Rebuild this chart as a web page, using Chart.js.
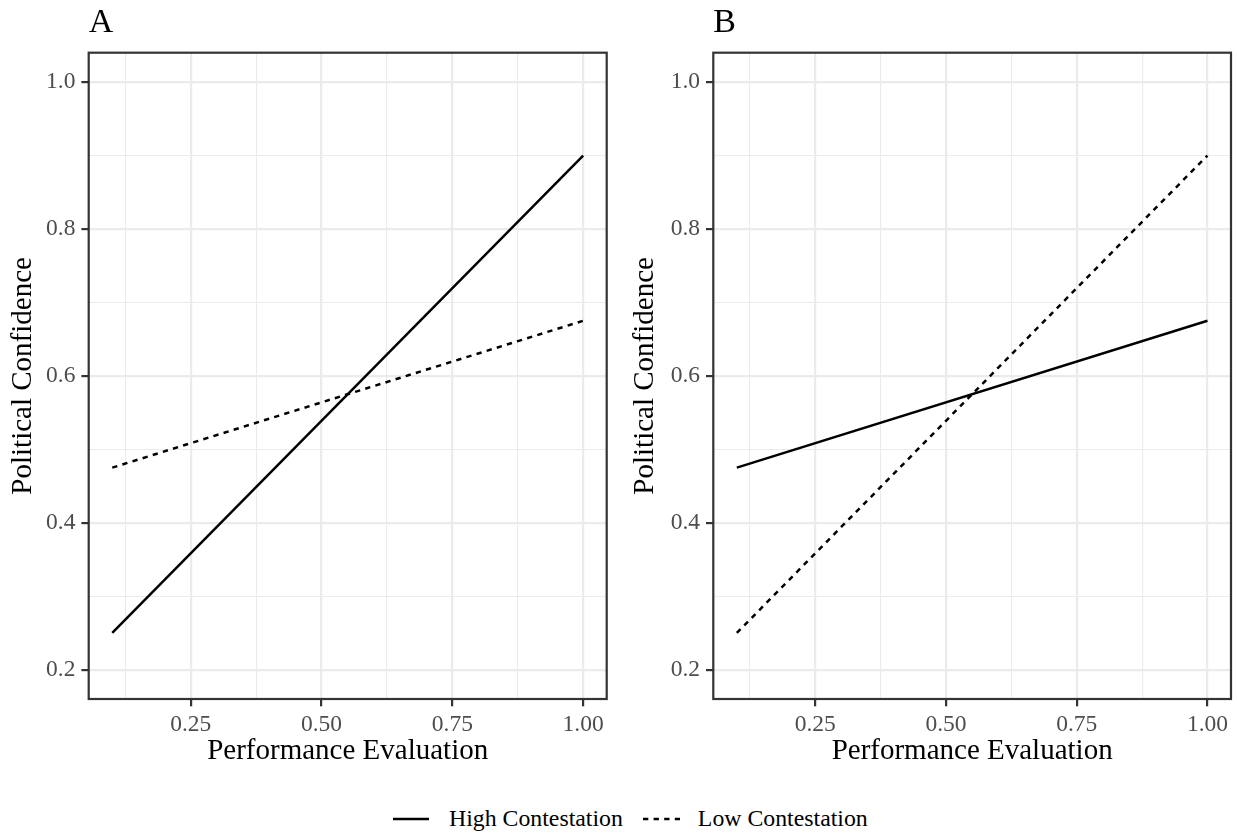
<!DOCTYPE html>
<html>
<head>
<meta charset="utf-8">
<script src="https://cdn.jsdelivr.net/npm/chart.js@4.4.1/dist/chart.umd.min.js"></script>
<style>
  body { margin: 0; background: #fff; width: 1238px; height: 834px; position: relative; overflow: hidden; }
  canvas { position: absolute; top: 0; }
  #chartA { left: 0; }
  #chartB { left: 619px; }
  .legend { position: absolute; left: 393px; top: 805px; display: flex; align-items: center;
    font-family: "Liberation Serif", serif; font-size: 23.8px; color: #000; white-space: nowrap; }
  .legend svg { display: block; }
</style>
</head>
<body>
<canvas id="chartA" width="619" height="775"></canvas>
<canvas id="chartB" width="619" height="775"></canvas>
<div class="legend">
  <svg width="36" height="10"><line x1="0" y1="5" x2="36" y2="5" stroke="#000" stroke-width="2.5"/></svg>
  <span style="margin-left:20px">High Contestation</span>
  <svg width="37" height="10" style="margin-left:20px"><line x1="0" y1="5" x2="37" y2="5" stroke="#000" stroke-width="2.5" stroke-dasharray="5.3 5.3"/></svg>
  <span style="margin-left:18px">Low Contestation</span>
</div>
<script>
// performance evaluation (x) endpoints
const perfEval = [0.1, 1.0]

// predicted political confidence
const highA = [0.25, 0.9]
const lowA = [0.475, 0.675]
const highB = [0.475, 0.675]
const lowB = [0.25, 0.9]

// tick labels
const xTicks = [0.25, 0.5, 0.75, 1.0]
const xMinor = [0.125, 0.375, 0.625, 0.875]
const yTicks = [0.2, 0.4, 0.6, 0.8, 1.0]
const yMinor = [0.3, 0.5, 0.7, 0.9]

const FONT = "'Liberation Serif', 'Times New Roman', serif"

const toPoints = (ys) => perfEval.map((x, i) => ({ x: x, y: ys[i] }))

const panelBorder = {
  id: "panelBorder",
  afterDatasetsDraw(chart) {
    const a = chart.chartArea
    const ctx = chart.ctx
    ctx.save()
    ctx.strokeStyle = "#333333"
    ctx.lineWidth = 2.2
    ctx.strokeRect(a.left, a.top, a.right - a.left, a.bottom - a.top)
    ctx.restore()
  }
}

function makeChart(id, title, high, low, yAxisWidth, yTitlePad, padRight) {
  const ctx = document.getElementById(id).getContext("2d")
  return new Chart(ctx, {
    type: "scatter",
    data: {
      datasets: [
        {
          label: "High Contestation",
          data: toPoints(high),
          showLine: true,
          borderColor: "#000",
          borderWidth: 2.5,
          pointRadius: 0,
          fill: false
        },
        {
          label: "Low Contestation",
          data: toPoints(low),
          showLine: true,
          borderColor: "#000",
          borderWidth: 2.5,
          borderDash: [5.3, 5.3],
          pointRadius: 0,
          fill: false
        }
      ]
    },
    options: {
      responsive: false,
      animation: false,
      layout: { padding: { left: 0, right: padRight, top: 0, bottom: 0 } },
      plugins: {
        legend: { display: false },
        tooltip: { enabled: false },
        title: {
          display: true,
          text: title,
          align: "start",
          fullSize: false,
          color: "#000",
          font: { family: FONT, size: 34, weight: "normal" },
          padding: { top: 3, bottom: 8.9 }
        }
      },
      scales: {
        x: {
          type: "linear",
          min: 0.055,
          max: 1.045,
          afterBuildTicks: (scale) => {
            scale.ticks = [...xMinor, ...xTicks].sort((a, b) => a - b).map(v => ({ value: v }))
          },
          afterFit: (scale) => {
            scale.height = 76
            scale.paddingLeft = 0
            scale.paddingRight = 0
          },
          ticks: {
            autoSkip: false,
            maxRotation: 0,
            padding: 4,
            color: "#4D4D4D",
            font: { family: FONT, size: 23.5 },
            callback: (v) => xTicks.includes(v) ? v.toFixed(2) : ""
          },
          grid: {
            color: "#EBEBEB",
            lineWidth: (c) => xTicks.includes(c.tick.value) ? 2.2 : 1.1,
            tickLength: 7.3,
            tickColor: (c) => xTicks.includes(c.tick.value) ? "#333333" : "rgba(0,0,0,0)",
            tickWidth: 2.2
          },
          border: { display: false },
          title: {
            display: true,
            text: "Performance Evaluation",
            color: "#000",
            font: { family: FONT, size: 29 },
            padding: { top: 0, bottom: 6.4 }
          }
        },
        y: {
          type: "linear",
          min: 0.16,
          max: 1.04,
          afterBuildTicks: (scale) => {
            scale.ticks = [...yMinor, ...yTicks].sort((a, b) => a - b).map(v => ({ value: v }))
          },
          afterFit: (scale) => {
            scale.width = yAxisWidth
            scale.paddingTop = 0
            scale.paddingBottom = 0
          },
          ticks: {
            autoSkip: false,
            padding: 6,
            color: "#4D4D4D",
            font: { family: FONT, size: 23.5 },
            callback: (v) => yTicks.includes(v) ? v.toFixed(1) : ""
          },
          grid: {
            color: "#EBEBEB",
            lineWidth: (c) => yTicks.includes(c.tick.value) ? 2.2 : 1.1,
            tickLength: 7.3,
            tickColor: (c) => yTicks.includes(c.tick.value) ? "#333333" : "rgba(0,0,0,0)",
            tickWidth: 2.2
          },
          border: { display: false },
          title: {
            display: true,
            text: "Political Confidence",
            color: "#000",
            font: { family: FONT, size: 29 },
            padding: { top: yTitlePad, bottom: 0 }
          }
        }
      }
    },
    plugins: [panelBorder]
  })
}

makeChart("chartA", "A", highA, lowA, 88.7, 5.8, 12.3)
makeChart("chartB", "B", highB, lowB, 94.3, 8.6, 7)
</script>
</body>
</html>
